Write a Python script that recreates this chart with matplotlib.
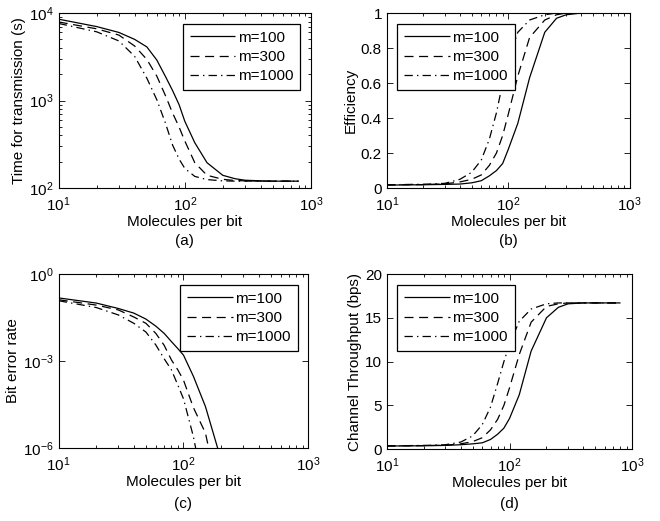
import matplotlib
matplotlib.use("Agg")
import matplotlib.pyplot as plt

plt.rcParams['font.family'] = ['Liberation Sans', 'DejaVu Sans']
plt.rcParams['font.size'] = 11
plt.rcParams['mathtext.fontset'] = 'custom'
plt.rcParams['mathtext.rm'] = 'Liberation Sans'
plt.rcParams['lines.scale_dashes'] = False

# molecules per bit
x = [10, 20, 30, 40, 50, 60, 70, 80, 90, 100, 120, 150, 200, 250, 300, 400, 500, 600, 700, 800]
labels = ["m=100", "m=300", "m=1000"]

# (a) time for transmission (s)
t100 = [8500, 7000, 6000, 5000, 4100, 2900, 1900, 1300, 900, 580, 330, 195, 140, 128, 123, 121, 120, 120, 120, 120]
t300 = [7900, 6600, 5600, 4200, 2950, 1900, 1150, 720, 500, 345, 195, 140, 126, 122, 121, 120, 120, 120, 120, 120]
t1000 = [7600, 6100, 4800, 3200, 1800, 1020, 560, 310, 215, 168, 136, 125, 121, 120, 120, 120, 120, 120, 120, 120]

# (b) efficiency
e100 = [0.017, 0.019, 0.021, 0.023, 0.03, 0.042, 0.07, 0.1, 0.14, 0.22, 0.37, 0.63, 0.89, 0.97, 0.99, 1.0, 1.0, 1.0, 1.0, 1.0]
e300 = [0.018, 0.02, 0.024, 0.035, 0.05, 0.075, 0.13, 0.2, 0.3, 0.42, 0.64, 0.86, 0.96, 0.99, 1.0, 1.0, 1.0, 1.0, 1.0, 1.0]
e1000 = [0.019, 0.022, 0.027, 0.05, 0.09, 0.16, 0.28, 0.43, 0.6, 0.73, 0.89, 0.96, 0.99, 1.0, 1.0, 1.0, 1.0, 1.0, 1.0, 1.0]

# (c) bit error rate
b100 = [0.15, 0.1, 0.065, 0.045, 0.028, 0.016, 0.009, 0.0047, 0.0027, 0.0016, 0.0003, 2.7e-5, 4e-7, 1e-8, 1e-9, 1e-10, 1e-10, 1e-10, 1e-10, 1e-10]
b300 = [0.13, 0.085, 0.058, 0.033, 0.02, 0.009, 0.0035, 0.0011, 0.0005, 0.00022, 2.5e-5, 3.3e-6, 1e-8, 1e-9, 1e-10, 1e-10, 1e-10, 1e-10, 1e-10, 1e-10]
b1000 = [0.12, 0.07, 0.039, 0.02, 0.01, 0.0036, 0.0012, 0.0005, 0.00015, 5e-5, 2.5e-6, 2e-8, 1e-9, 1e-10, 1e-10, 1e-10, 1e-10, 1e-10, 1e-10, 1e-10]

# (d) channel throughput (bps)
c100 = [0.35, 0.38, 0.42, 0.5, 0.6, 0.72, 1.1, 1.7, 2.4, 3.5, 6.2, 11.2, 15.0, 16.2, 16.6, 16.7, 16.7, 16.7, 16.7, 16.7]
c300 = [0.36, 0.4, 0.45, 0.6, 0.85, 1.3, 2.2, 3.4, 5.0, 7.0, 10.8, 14.5, 16.3, 16.6, 16.7, 16.7, 16.7, 16.7, 16.7, 16.7]
c1000 = [0.37, 0.42, 0.5, 0.8, 1.5, 2.8, 4.8, 7.5, 10.0, 12.0, 14.6, 16.0, 16.6, 16.7, 16.7, 16.7, 16.7, 16.7, 16.7, 16.7]

# matlab-ish dash patterns (points)
styles = [(0, ()), (0, (6.5, 4)), (0, (6, 3, 1, 3))]

fig = plt.figure(figsize=(6.6, 5.21), dpi=100)
ax_a = fig.add_axes([0.089, 0.639, 0.382, 0.336])
ax_b = fig.add_axes([0.586, 0.639, 0.368, 0.336])
ax_c = fig.add_axes([0.089, 0.140, 0.378, 0.334])
ax_d = fig.add_axes([0.586, 0.138, 0.372, 0.336])


def draw(ax, ys, ylabel, legloc, logy):
    for y, ls, lab in zip(ys, styles, labels):
        ax.plot(x, y, linestyle=ls, color="black", lw=0.9, label=lab)
    ax.set_xscale("log")
    if logy:
        ax.set_yscale("log")
    ax.set_xlim(10, 1000)
    ax.set_xlabel("Molecules per bit", labelpad=1)
    ax.set_ylabel(ylabel, labelpad=2)
    ax.tick_params(which="both", direction="in", top=True, right=True, width=0.6)
    ax.tick_params(which="major", length=4)
    ax.tick_params(which="minor", length=2)
    ax.tick_params(axis="x", which="both", pad=5)
    for s in ax.spines.values():
        s.set_linewidth(0.8)
    leg = ax.legend(loc=legloc, fancybox=False, edgecolor="black", handlelength=3.0,
                    handletextpad=0.15, borderpad=0.45, labelspacing=0.35,
                    borderaxespad=0.7, framealpha=1)
    leg.get_frame().set_linewidth(0.9)


draw(ax_a, [t100, t300, t1000], "Time for transmission (s)", "upper right", True)
ax_a.set_ylim(100, 10000)

draw(ax_b, [e100, e300, e1000], "Efficiency", "upper left", False)
ax_b.set_ylim(0, 1)
ax_b.set_yticks([0, 0.2, 0.4, 0.6, 0.8, 1])
ax_b.set_yticklabels(["0", "0.2", "0.4", "0.6", "0.8", "1"])

draw(ax_c, [b100, b300, b1000], "Bit error rate", "upper right", True)
ax_c.set_ylim(1e-6, 1)
ax_c.set_yticks([1e-6, 1e-3, 1])
ax_c.minorticks_off()
ax_c.set_xticks([20, 30, 40, 50, 60, 70, 80, 90, 200, 300, 400, 500, 600, 700, 800, 900], minor=True)
ax_c.tick_params(which="minor", direction="in", length=2, top=True)

draw(ax_d, [c100, c300, c1000], "Channel Throughput (bps)", "upper left", False)
ax_d.set_ylim(0, 20)
ax_d.set_yticks([0, 5, 10, 15, 20])

fig.text(0.280, 0.530, "(a)", ha="center")
fig.text(0.770, 0.530, "(b)", ha="center")
fig.text(0.278, 0.025, "(c)", ha="center")
fig.text(0.772, 0.025, "(d)", ha="center")

fig.savefig("out.png", dpi=100)
